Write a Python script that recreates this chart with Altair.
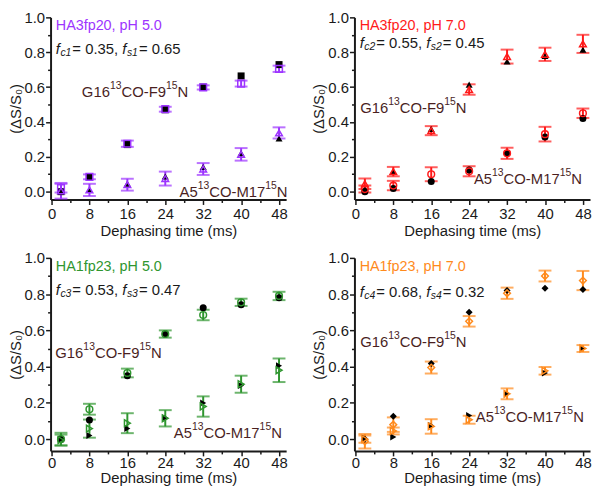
import altair as alt
import pandas as pd

T = [2, 8, 16, 24, 32, 40, 48]

# Panel 1: HA3fp20, pH 5.0
p1_g_exp = [0.02, 0.085, 0.275, 0.473, 0.598, 0.62, 0.705]
p1_g_err = [0.025, 0.014, 0.018, 0.014, 0.012, 0.017, 0.018]
p1_g_calc = [0.0, 0.085, 0.27, 0.47, 0.60, 0.664, 0.729]
p1_a_exp = [0.005, 0.01, 0.04, 0.075, 0.13, 0.214, 0.337]
p1_a_err = [0.045, 0.035, 0.034, 0.04, 0.034, 0.036, 0.032]
p1_a_calc = [0.0, 0.01, 0.045, 0.087, 0.142, 0.22, 0.305]

# Panel 2: HA3fp20, pH 7.0
p2_g_exp = [0.045, 0.115, 0.35, 0.586, 0.775, 0.788, 0.848]
p2_g_err = [0.03, 0.027, 0.026, 0.03, 0.04, 0.038, 0.052]
p2_g_calc = [0.015, 0.115, 0.36, 0.614, 0.747, 0.778, 0.814]
p2_a_exp = [0.015, 0.035, 0.10, 0.117, 0.22, 0.33, 0.45]
p2_a_err = [0.02, 0.027, 0.04, 0.029, 0.032, 0.042, 0.027]
p2_a_calc = [0.0, 0.018, 0.058, 0.124, 0.22, 0.313, 0.42]

# Panel 3: HA1fp23, pH 5.0
p3_g_exp = [0.0, 0.165, 0.365, 0.58, 0.685, 0.755, 0.79]
p3_g_err = [0.035, 0.03, 0.024, 0.02, 0.029, 0.02, 0.023]
p3_g_calc = [0.0, 0.105, 0.35, 0.58, 0.725, 0.742, 0.78]
p3_a_exp = [-0.005, 0.058, 0.088, 0.115, 0.18, 0.303, 0.38]
p3_a_err = [0.03, 0.05, 0.055, 0.045, 0.056, 0.047, 0.065]
p3_a_calc = [0.0, 0.02, 0.058, 0.118, 0.2, 0.296, 0.405]

# Panel 4: HA1fp23, pH 7.0
p4_g_exp = [-0.012, 0.08, 0.395, 0.65, 0.805, 0.9, 0.875]
p4_g_err = [0.04, 0.04, 0.033, 0.029, 0.031, 0.03, 0.053]
p4_g_calc = [0.0, 0.126, 0.417, 0.70, 0.82, 0.833, 0.825]
p4_a_exp = [0.0, 0.045, 0.07, 0.107, 0.25, 0.377, 0.5]
p4_a_err = [0.02, 0.019, 0.04, 0.022, 0.03, 0.021, 0.019]
p4_a_calc = [0.005, 0.012, 0.075, 0.13, 0.25, 0.365, 0.5]

FONT = "Liberation Sans"
LABEL_COLOR = "#4a1f1f"

# Arial/Liberation Sans advance widths (per 1000 em)
W = {' ': 278, '(': 333, ')': 333, ',': 278, '-': 333, '.': 278, '=': 584,
     'A': 667, 'C': 722, 'F': 611, 'G': 778, 'H': 722, 'M': 833, 'N': 722,
     'O': 778, 'a': 556, 'c': 500, 'f': 278, 'p': 556, 's': 500, 'h': 556}
for d in '0123456789':
    W[d] = 556


def tw(s, size):
    return sum(W.get(c, 556) for c in s) * size / 1000.0


def x_axis(lab_pad, title_pad):
    return alt.Axis(values=list(range(0, 49, 4)),
                    labelExpr="datum.value % 8 == 0 ? datum.label : ''",
                    tickSize={"condition": {"test": "datum.value % 8 == 0", "value": 5}, "value": 3},
                    labelFlush=False, labelOverlap=False, labelPadding=lab_pad, titlePadding=title_pad)


Y_AXIS = alt.Axis(values=[round(i * 0.1, 1) for i in range(11)],
                  labelExpr="round(datum.value*10) % 2 == 0 ? format(datum.value, '.1f') : ''",
                  tickSize={"condition": {"test": "round(datum.value*10) % 2 == 0", "value": 5}, "value": 3},
                  labelFlush=False, labelOverlap=False, labelPadding=1, titlePadding=1)

XT = "Dephasing time (ms)"
YT = "(ΔS/S₀)"


def panel(g_exp, g_err, g_calc, a_exp, a_err, a_calc, color, g_shape, a_shape,
          title, fc, fs, idx, fy, g_pos, a_pos, ydom, height, xax):
    xs = alt.Scale(domain=[-0.2, 49.5], nice=False, zero=False)
    ys = alt.Scale(domain=ydom, nice=False, zero=False)

    def X(f):
        return alt.X(f, scale=xs, axis=xax, title=XT)

    def Y(f):
        return alt.Y(f, scale=ys, axis=Y_AXIS, title=YT)

    df = pd.DataFrame({
        "t": T * 2,
        "exp": g_exp + a_exp,
        "lo": [e - r for e, r in zip(g_exp + a_exp, g_err + a_err)],
        "hi": [e + r for e, r in zip(g_exp + a_exp, g_err + a_err)],
        "calc": g_calc + a_calc,
        "site": ["G"] * len(T) + ["A"] * len(T),
    })
    base = alt.Chart(df)
    layers = []
    layers.append(base.mark_rule(color=color, strokeWidth=2).encode(x=X("t:Q"), y=Y("lo:Q"), y2="hi:Q"))
    layers.append(base.mark_tick(color=color, thickness=2, size=13, orient="horizontal").encode(x=X("t:Q"), y=Y("lo:Q")))
    layers.append(base.mark_tick(color=color, thickness=2, size=13, orient="horizontal").encode(x=X("t:Q"), y=Y("hi:Q")))
    for site, shp in (("G", g_shape), ("A", a_shape)):
        sub = base.transform_filter(alt.datum.site == site)
        layers.append(sub.mark_point(shape=shp, filled=True, color="black", size=50, opacity=1)
                      .encode(x=X("t:Q"), y=Y("calc:Q")))
        layers.append(sub.mark_point(shape=shp, filled=False, color=color, size=46, strokeWidth=1.5, opacity=1)
                      .encode(x=X("t:Q"), y=Y("exp:Q")))

    def seg(text, x, y, dx, dy, size, color_, style="normal"):
        d = pd.DataFrame({"x": [x], "y": [y], "s": [text]})
        return alt.Chart(d).mark_text(align="left", baseline="middle", dx=dx, dy=dy, fontSize=size,
                                      font=FONT, fontStyle=style, color=color_).encode(
            x=X("x:Q"), y=Y("y:Q"), text="s:N")

    def rich(parts, x, y, color_):
        out = []
        off = 0.0
        for text, kind in parts:
            if kind == "n":
                out.append(seg(text, x, y, off, 0, 15, color_))
                off += tw(text, 15)
            elif kind == "i":
                out.append(seg(text, x, y, off, 0, 15, color_, "italic"))
                off += tw(text, 15) + 0.5
            elif kind == "sub":
                out.append(seg(text, x, y, off, 4, 10.5, color_, "italic"))
                off += tw(text, 10.5) + 1
            elif kind == "sup":
                out.append(seg(text, x, y, off, -6, 10.5, color_))
                off += tw(text, 10.5)
        return out

    layers.append(seg(title, 0.9, 0.95, 0, 0, 14.5, color))
    layers += rich([("f", "i"), ("c" + idx, "sub"), ("= " + fc + ", ", "n"),
                    ("f", "i"), ("s" + idx, "sub"), (" = " + fs, "n")], 0.9, fy, "#1a1a1a")
    layers += rich([("G16", "n"), ("13", "sup"), ("CO-F9", "n"), ("15", "sup"), ("N", "n")],
                   g_pos[0], g_pos[1], LABEL_COLOR)
    layers += rich([("A5", "n"), ("13", "sup"), ("CO-M17", "n"), ("15", "sup"), ("N", "n")],
                   a_pos[0], a_pos[1], LABEL_COLOR)
    return alt.layer(*layers).properties(width=238, height=height)


PURPLE = "#9d34ff"
RED = "#ff1a1a"
GREEN = "#2f962f"
ORANGE = "#ff8a1c"

top_dom = [-0.045, 1.0]
bot_dom = [-0.065, 1.0]
top_x = x_axis(2, 2)
bot_x = x_axis(0, 0)

c1 = panel(p1_g_exp, p1_g_err, p1_g_calc, p1_a_exp, p1_a_err, p1_a_calc, PURPLE, "square", "triangle-up",
           "HA3fp20, pH 5.0", "0.35", "0.65", "1", 0.82, (6.4, 0.57), (27.0, 0.0), top_dom, 184, top_x)
c2 = panel(p2_g_exp, p2_g_err, p2_g_calc, p2_a_exp, p2_a_err, p2_a_calc, RED, "triangle-up", "circle",
           "HA3fp20, pH 7.0", "0.55", "0.45", "2", 0.85, (1.0, 0.48), (25.0, 0.075), top_dom, 184, top_x)
c3 = panel(p3_g_exp, p3_g_err, p3_g_calc, p3_a_exp, p3_a_err, p3_a_calc, GREEN, "circle", "triangle-right",
           "HA1fp23, pH 5.0", "0.53", "0.47", "3", 0.82, (0.8, 0.475), (25.8, 0.033), bot_dom, 195, bot_x)
c4 = panel(p4_g_exp, p4_g_err, p4_g_calc, p4_a_exp, p4_a_err, p4_a_calc, ORANGE, "diamond", "triangle-right",
           "HA1fp23, pH 7.0", "0.68", "0.32", "4", 0.81, (1.0, 0.537), (25.4, 0.12), bot_dom, 195, bot_x)

chart = alt.vconcat(
    alt.hconcat(c1, c2, spacing=24),
    alt.hconcat(c3, c4, spacing=24),
    spacing=13,
).properties(padding=0).configure_view(stroke=None).configure_axis(
    labelFont=FONT, titleFont=FONT, labelFontSize=15, titleFontSize=15, titleFontWeight="normal",
    labelColor="#1a1a1a", titleColor="#1a1a1a", domainColor="#1a1a1a", domainWidth=2,
    tickColor="#1a1a1a", tickWidth=1.5, grid=False,
)

chart.save("out.html", embed_options={"renderer": "svg", "actions": False})
